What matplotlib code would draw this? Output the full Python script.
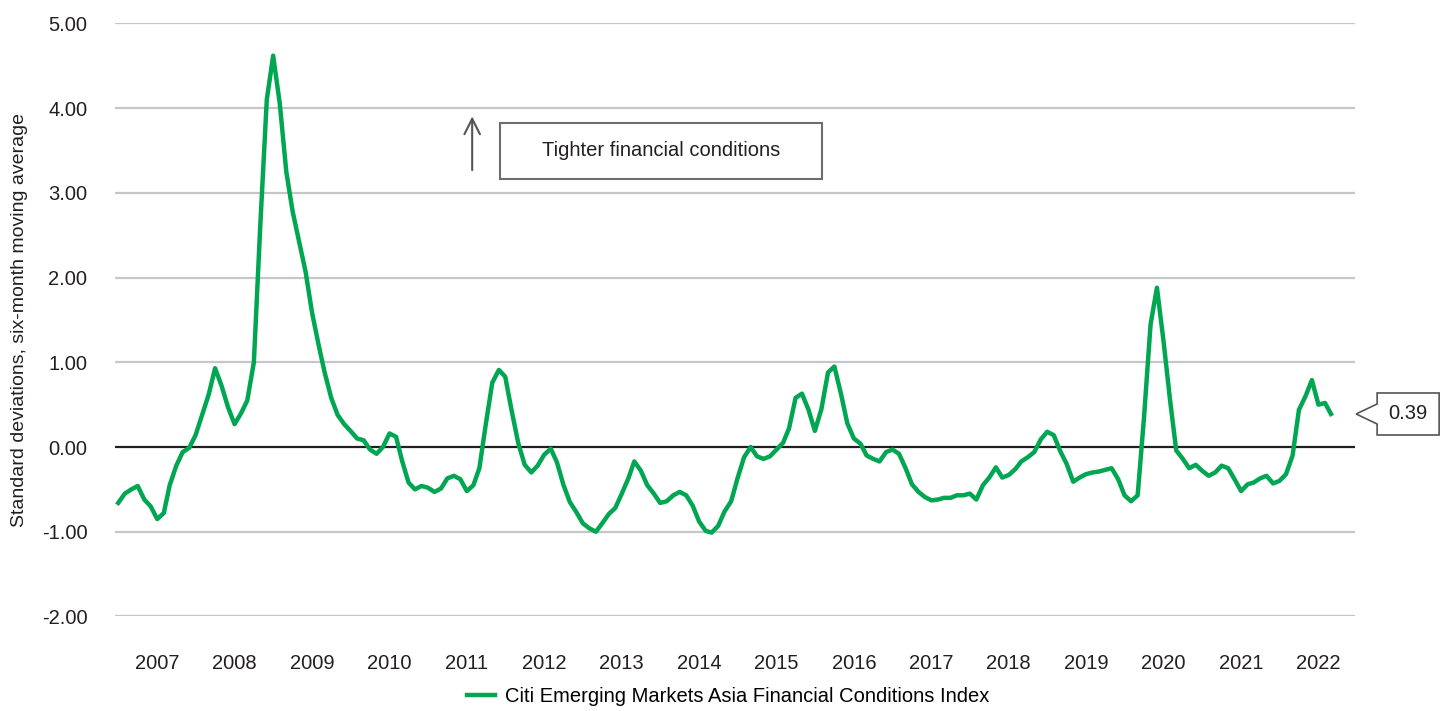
import matplotlib

matplotlib.use("Agg")
import matplotlib.dates as mdates
import matplotlib.pyplot as plt
import pandas as pd
from matplotlib.patches import Polygon, Rectangle
from matplotlib.transforms import IdentityTransform

# Citi EM Asia FCI, six-month moving average, monthly from Jul 2006
start_month = "2006-07-01"
fci_values = [
    -0.66, -0.55, -0.50, -0.46, -0.62, -0.70,                                # 2006 H2
    -0.85, -0.78, -0.45, -0.22, -0.06, -0.01, 0.14, 0.38, 0.62, 0.93, 0.72, 0.47,  # 2007
    0.27, 0.40, 0.55, 1.00, 2.60, 4.10, 4.62, 4.06, 3.25, 2.78, 2.42, 2.07,  # 2008
    1.58, 1.20, 0.88, 0.58, 0.38, 0.27, 0.19, 0.10, 0.08, -0.03, -0.08, 0.00,  # 2009
    0.16, 0.12, -0.16, -0.42, -0.50, -0.46, -0.48, -0.53, -0.49, -0.37, -0.34, -0.38,  # 2010
    -0.52, -0.45, -0.25, 0.28, 0.76, 0.91, 0.83, 0.42, 0.04, -0.21, -0.30, -0.22,  # 2011
    -0.09, -0.02, -0.18, -0.45, -0.65, -0.77, -0.90, -0.96, -1.00, -0.90, -0.79, -0.72,  # 2012
    -0.55, -0.37, -0.17, -0.28, -0.45, -0.55, -0.66, -0.64, -0.57, -0.53, -0.57, -0.69,  # 2013
    -0.88, -0.99, -1.01, -0.93, -0.76, -0.64, -0.37, -0.12, 0.00, -0.11, -0.14, -0.11,  # 2014
    -0.03, 0.05, 0.22, 0.58, 0.63, 0.44, 0.19, 0.45, 0.88, 0.95, 0.63, 0.28,  # 2015
    0.10, 0.04, -0.10, -0.14, -0.17, -0.06, -0.03, -0.08, -0.25, -0.44, -0.53, -0.59,  # 2016
    -0.63, -0.62, -0.60, -0.60, -0.57, -0.57, -0.55, -0.62, -0.45, -0.36, -0.24, -0.36,  # 2017
    -0.33, -0.26, -0.17, -0.12, -0.06, 0.09, 0.18, 0.14, -0.05, -0.20, -0.41, -0.36,  # 2018
    -0.32, -0.30, -0.29, -0.27, -0.25, -0.38, -0.57, -0.64, -0.57, 0.35, 1.45, 1.88,  # 2019
    1.25, 0.55, -0.04, -0.14, -0.25, -0.21, -0.28, -0.34, -0.30, -0.22, -0.25, -0.38,  # 2020
    -0.52, -0.44, -0.42, -0.37, -0.34, -0.43, -0.40, -0.32, -0.10, 0.44, 0.60, 0.79,  # 2021
    0.50, 0.52, 0.39,                                                        # 2022
]
y_ticks = [-2, -1, 0, 1, 2, 3, 4, 5]
series_label = "Citi Emerging Markets Asia Financial Conditions Index"
y_label = "Standard deviations, six-month moving average"
note_text = "Tighter financial conditions"

GREEN = "#00a651"
GRID = "#c6c6ca"
TEXT = "#231f20"

plt.rcParams["font.family"] = ["Liberation Sans", "DejaVu Sans"]
plt.rcParams["font.size"] = 14.5

dates = pd.date_range(start_month, periods=len(fci_values), freq="MS")

fig = plt.figure(figsize=(14.47, 7.11), dpi=100)
ax = fig.add_axes([0.0795, 0.133, 0.857, 0.834])

for v in y_ticks:
    ax.axhline(v, color=TEXT if v == 0 else GRID, lw=1.6, zorder=1)

ax.plot(dates, fci_values, color=GREEN, lw=3.2, label=series_label,
        solid_joinstyle="round", zorder=3)

ax.set_ylim(-2, 5)
ax.set_xlim(pd.Timestamp("2006-06-16"), pd.Timestamp("2022-06-23"))
ax.set_yticks(y_ticks)
ax.set_yticklabels([f"{v:.2f}" for v in y_ticks])
ax.xaxis.set_major_locator(mdates.YearLocator())
ax.xaxis.set_major_formatter(mdates.DateFormatter("%Y"))
ax.tick_params(axis="both", length=0, colors=TEXT, labelsize=14.5)
ax.tick_params(axis="y", pad=20)
ax.tick_params(axis="x", pad=27)
for s in ax.spines.values():
    s.set_visible(False)

fig.text(20 / 1447, 0.55, y_label, rotation=90, ha="center", va="center",
         color=TEXT, fontsize=14)

# "tighter" arrow and note box
ax.annotate("", xy=(0.288, 0.848), xytext=(0.288, 0.748), xycoords="axes fraction",
            arrowprops=dict(arrowstyle="->", color="#555555", lw=1.5, mutation_scale=28))
ax.add_patch(Rectangle((0.3105, 0.738), 0.2595, 0.094, transform=ax.transAxes,
                       fill=False, edgecolor="#6d6d6d", lw=1.5))
ax.text(0.440, 0.786, note_text, transform=ax.transAxes, ha="center", va="center",
        color=TEXT, fontsize=14.5)

# latest-value callout
last = fci_values[-1]
tip_x = ax.transAxes.transform((1, 0))[0] + 1
tip_y = ax.transData.transform((0, last))[1]
left, right, half = tip_x + 21, tip_x + 83, 21
pts = [(tip_x, tip_y), (left, tip_y + 10), (left, tip_y + half), (right, tip_y + half),
       (right, tip_y - half), (left, tip_y - half), (left, tip_y - 10)]
fig.add_artist(Polygon(pts, closed=True, transform=IdentityTransform(),
                       facecolor="white", edgecolor="#555555", lw=1.2))
fig.text((left + right) / 2 / 1447, tip_y / 711, f"{last:.2f}", ha="center",
         va="center", color=TEXT, fontsize=14.5)

fig.legend(loc="center", bbox_to_anchor=(0.503, 0.021), frameon=False,
           handlelength=1.4, handletextpad=0.5, fontsize=14.5)

fig.savefig("out.png", dpi=100)
